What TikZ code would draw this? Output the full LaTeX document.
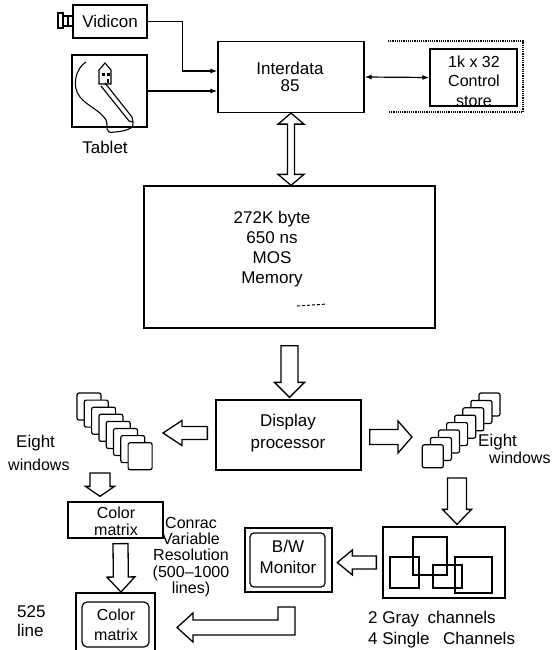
\documentclass[tikz,border=0pt]{standalone}
\usepackage{fontspec}
\setmainfont{Liberation Sans}
\usetikzlibrary{calc,arrows.meta}

% Hollow block arrow from #1 to #2: shaft half width #3, head half width #4, head length #5
\newcommand\fatarrow[5]{%
 \draw[fat] let \p1=#1, \p2=#2, \n1={veclen(\x2-\x1,\y2-\y1)},
   \n2={(\x2-\x1)/\n1}, \n3={(\y2-\y1)/\n1} in
 ({\x1-(#3)*(\n3)},{\y1+(#3)*(\n2)})
 -- ({\x1+(\n1-#5)*(\n2)-(#3)*(\n3)},{\y1+(\n1-#5)*(\n3)+(#3)*(\n2)})
 -- ({\x1+(\n1-#5)*(\n2)-(#4)*(\n3)},{\y1+(\n1-#5)*(\n3)+(#4)*(\n2)})
 -- (\p2)
 -- ({\x1+(\n1-#5)*(\n2)+(#4)*(\n3)},{\y1+(\n1-#5)*(\n3)-(#4)*(\n2)})
 -- ({\x1+(\n1-#5)*(\n2)+(#3)*(\n3)},{\y1+(\n1-#5)*(\n3)-(#3)*(\n2)})
 -- ({\x1+(#3)*(\n3)},{\y1-(#3)*(\n2)}) -- cycle;}

% Same, with a head at both ends
\newcommand\fatdarrow[5]{%
 \draw[fat] let \p1=#1, \p2=#2, \n1={veclen(\x2-\x1,\y2-\y1)},
   \n2={(\x2-\x1)/\n1}, \n3={(\y2-\y1)/\n1} in
 ({\x1+(#5)*(\n2)-(#3)*(\n3)},{\y1+(#5)*(\n3)+(#3)*(\n2)})
 -- ({\x1+(\n1-#5)*(\n2)-(#3)*(\n3)},{\y1+(\n1-#5)*(\n3)+(#3)*(\n2)})
 -- ({\x1+(\n1-#5)*(\n2)-(#4)*(\n3)},{\y1+(\n1-#5)*(\n3)+(#4)*(\n2)})
 -- (\p2)
 -- ({\x1+(\n1-#5)*(\n2)+(#4)*(\n3)},{\y1+(\n1-#5)*(\n3)-(#4)*(\n2)})
 -- ({\x1+(\n1-#5)*(\n2)+(#3)*(\n3)},{\y1+(\n1-#5)*(\n3)-(#3)*(\n2)})
 -- ({\x1+(#5)*(\n2)+(#3)*(\n3)},{\y1+(#5)*(\n3)-(#3)*(\n2)})
 -- ({\x1+(#5)*(\n2)+(#4)*(\n3)},{\y1+(#5)*(\n3)-(#4)*(\n2)})
 -- (\p1)
 -- ({\x1+(#5)*(\n2)-(#4)*(\n3)},{\y1+(#5)*(\n3)+(#4)*(\n2)}) -- cycle;}

\begin{document}
\begin{tikzpicture}[x=1pt,y=-1pt,
  box/.style={draw, line width=1.3pt, inner sep=0pt},
  lbl/.style={inner sep=0pt, align=center, font=\fontsize{17}{20}\selectfont},
  conn/.style={line width=1.2pt, -{Latex[length=7pt,width=5pt]}},
  fat/.style={draw, line width=1.3pt, fill=white, line join=miter},
  win/.style={draw, line width=1.2pt, fill=white, rounded corners=2pt},
  thin/.style={line width=1.1pt}]

\fill[white] (0,0) rectangle (552,650);
\useasboundingbox (0,0) rectangle (552,650);

% ---- input devices and processor ----
\node[box, minimum width=74pt, minimum height=33pt, font=\fontsize{17}{20}\selectfont] (vid) at (110,21.5) {Vidicon};
% camera on the side of the vidicon box
\draw[thin] (58,13) rectangle (63,28);
\draw[thin] (63,16) rectangle (73,26);
\draw[thin] (68,16) -- (68,26);

\node[box, minimum width=75pt, minimum height=72pt] (tab) at (109.5,91) {};
\node[lbl] (tabtxt) at (105,147) {Tablet};
% house sketch, stylus and cord on the tablet
\draw[thin] (99,84) -- (99,70) -- (105,63) -- (111,70) -- (111,84) -- cycle;
\fill (102,73) rectangle (105,76);
\fill (107,73) rectangle (110,76);
\fill (107,79) rectangle (109,83);
\draw[thin] (101,86) -- (129,121) -- (133,122) -- (132,117) -- (105,83);
\draw[thin] (86,62) .. controls (76,68) and (71,86) .. (80,97)
  .. controls (87,106) and (100,110) .. (106,120)
  .. controls (109,127) and (103,134) .. (115,132)
  .. controls (127,131) and (135,128) .. (133,122);

\node[box, minimum width=146pt, minimum height=71pt] (inter) at (291,77) {};
\node[lbl, font=\fontsize{17}{17}\selectfont] (intertxt) at (290,77) {Interdata\\85};

\node[box, minimum width=87pt, minimum height=57pt] (ctrl) at (473.5,77.5) {};
\node[lbl, font=\fontsize{16}{19.5}\selectfont] (ctrltxt) at (474,81) {1k x 32\\Control\\store};
\draw[line width=1.2pt, densely dotted] (388,41) -- (523,41) -- (523,112) -- (388,112);

\draw[conn] (vid.east) -| ([xshift=-35pt,yshift=6pt]inter.west) -- ([yshift=6pt]inter.west);
\draw[conn] (tab.east) -- (tab.east -| inter.west);
\draw[line width=1.2pt, {Latex[length=7pt,width=5pt]}-{Latex[length=7pt,width=5pt]}] (inter.east) -- (ctrl.west);

% ---- memory ----
\node[box, minimum width=291pt, minimum height=142pt] (mem) at (289.5,257) {};
\node[lbl] (memtxt) at (272,249) {272K byte\\650 ns\\MOS\\Memory};
\draw[line width=1pt, dash pattern=on 3pt off 2pt] (297,306) -- (327,304);

\fatdarrow{(inter.south)}{(inter.south |- mem.north)}{3.5}{13}{11}

% ---- display processor ----
\node[box, minimum width=145pt, minimum height=70pt] (disp) at (288.5,435) {};
\node[lbl, font=\fontsize{17}{22}\selectfont] (disptxt) at (288,433) {Display\\processor};
\fatarrow{([yshift=-17pt]mem.south)}{([yshift=2pt]mem.south |- disp.north)}{8.5}{15}{15}

% ---- window stacks ----
\foreach \i in {0,...,7}
  \draw[win] ({77+7.3*\i},{393+7.1*\i}) rectangle ++(24,27);
\foreach \i in {0,...,7}
  \draw[win] ({479-8.1*\i},{393+7.4*\i}) rectangle ++(21,23);

\coordinate (lwin) at (163,433);
\coordinate (rwin) at (412,437);
\fatarrow{([xshift=-8pt,yshift=2pt]disp.west)}{(lwin)}{6.5}{12.5}{19}
\fatarrow{([xshift=8pt,yshift=-2pt]disp.east)}{(rwin)}{7.5}{16}{14}

\node[lbl, anchor=west] (eightl) at (16,443) {Eight};
\node[lbl, anchor=west, font=\fontsize{16}{20}\selectfont] (winl) at (8,465) {windows};
\node[lbl, anchor=west] (eightr) at (478,442) {Eight};
\node[lbl, anchor=west, font=\fontsize{16}{20}\selectfont] (winr) at (489,458) {windows};

% ---- colour path ----
\node[box, minimum width=95pt, minimum height=36pt] (colm) at (115.5,520) {};
\node[lbl, font=\fontsize{16}{17}\selectfont] (colmtxt) at (116,521) {Color\\matrix};
\coordinate (lwb) at (100,473);
\fatarrow{(lwb)}{([xshift=-15.5pt,yshift=5pt]colm.north)}{10}{14.5}{10}

% 525 line colour monitor
\draw[line width=1.3pt] (76,653) -- (76,593) -- (155,593) -- (155,653);
\draw[line width=1.2pt, rounded corners=5pt] (82,602) rectangle (149,647);
\coordinate (mon) at (115.5,602);
\node[lbl, font=\fontsize{16}{20}\selectfont] (montxt) at (116,625) {Color\\matrix};
\node[lbl, anchor=west, align=left, font=\fontsize{17}{19}\selectfont] (line525) at (17,621) {525\\line};
\fatarrow{([xshift=5pt,yshift=-5pt]colm.south)}{([xshift=5.5pt,yshift=10pt]mon)}{7.5}{14}{15}

\node[lbl, font=\fontsize{16}{16.3}\selectfont] (conrac) at (191,557) {Conrac\\Variable\\Resolution\\(500--1000\\lines)};

% ---- grey channels and B/W monitor ----
\node[box, minimum width=122pt, minimum height=71pt] (chan) at (444,562.5) {};
\draw[thin] (390,557) rectangle (419,588);
\draw[thin] (413,537) rectangle (447,575);
\draw[thin] (433,565) rectangle (462,588);
\draw[thin] (455,557) rectangle (492,593);
\coordinate (rwb) at (457,478);
\fatarrow{(rwb)}{([xshift=13pt,yshift=2pt]chan.north)}{9.5}{14.5}{15}

\node[box, minimum width=87pt, minimum height=64pt] (bw) at (288.5,560) {};
\node[draw, line width=1.2pt, rounded corners=4pt, minimum width=75pt, minimum height=54pt, inner sep=0pt] (bwscreen) at (287.5,560) {};
\node[lbl, font=\fontsize{17}{21}\selectfont] (bwtxt) at (288,557) {B/W\\Monitor};
\fatarrow{([xshift=-6pt]chan.west)}{([xshift=-45pt]chan.west)}{6.5}{12.5}{15}

\node[lbl, anchor=west] (gray) at (368,619) {2 Gray\hspace{0.5em}channels};
\node[lbl, anchor=west] (single) at (368,640) {4 Single\hspace{0.8em}Channels};

% bent arrow from the B/W monitor towards the colour monitor
\draw[fat] (295,607) -- (278,607) -- (278,620) -- (193,620) -- (193,613)
  -- (177,627.5) -- (193,642) -- (193,635) -- (295,635) -- cycle;

\end{tikzpicture}
\end{document}
